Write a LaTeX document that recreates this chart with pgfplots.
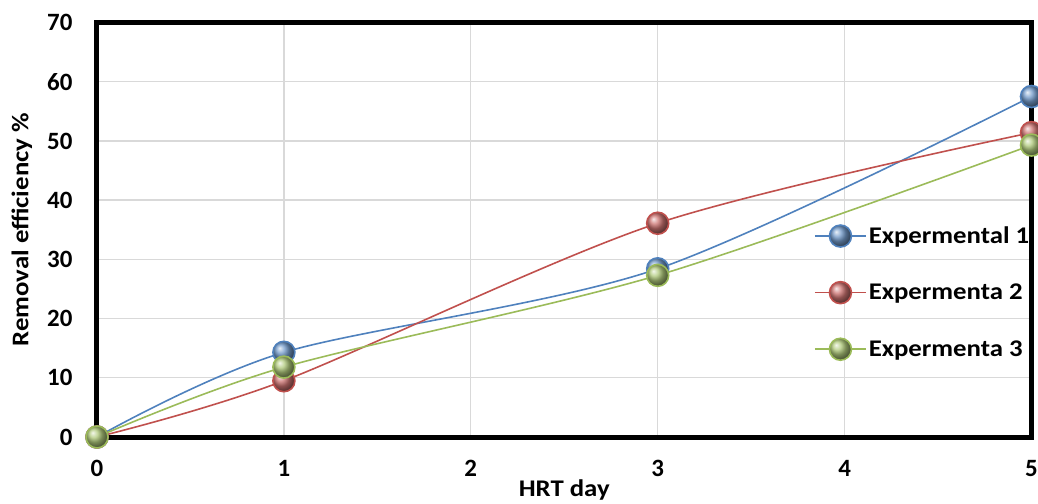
\documentclass[border=0pt]{standalone}
\usepackage{fontspec}
\setmainfont{Carlito}
\newfontfamily\widefont{Carlito}[FakeStretch=1.12]
\usepackage{pgfplots}
\pgfplotsset{compat=1.18}
\definecolor{cA}{HTML}{4F81BD}
\definecolor{cB}{HTML}{C0504D}
\definecolor{cC}{HTML}{9BBB59}
\begin{document}
\begin{tikzpicture}
\useasboundingbox (-97bp,-67bp) rectangle (941bp,437bp);
\begin{axis}[
  scale only axis,
  width=934.5bp, height=414.5bp,
  xmin=0, xmax=5, ymin=0, ymax=70,
  xtick={0,1,2,3,4,5}, ytick={0,10,...,70},
  grid=major,
  grid style={line width=1.3bp, color=black!15},
  axis line style={line width=5bp, line cap=rect},
  tick style={draw=none},
  /pgf/number format/assume math mode=true,
  ticklabel style={font=\fontsize{25}{29}\selectfont\bfseries},
  yticklabel style={xshift=-21bp},
  xticklabel style={yshift=-20bp},
  xlabel={HRT day},
  ylabel={Removal efficiency \%},
  label style={font=\widefont\fontsize{24}{28}\selectfont\bfseries},
  xlabel style={at={(axis description cs:0.5,0)}, anchor=center, yshift=-53bp},
  ylabel style={at={(axis description cs:-0.0803,0.5)}, anchor=center},
  clip=false,
  legend style={draw=none, fill=none, at={(axis cs:3.82,36.3)}, anchor=north west,
    font=\widefont\fontsize{24}{28}\selectfont\bfseries, row sep=33bp,
    nodes={inner sep=2bp}},
  legend cell align=left,
  legend image code/.code={
    \draw[mark repeat=2,mark phase=2,#1] plot coordinates {(0bp,0bp) (25.5bp,0bp) (51bp,0bp)};
  },
  every axis plot/.append style={line width=1.6bp, smooth, tension=0.5},
]
\addplot[color=cA, mark=ball, mark size=11bp, mark options={ball color=cA!80!white}] coordinates {(0,0) (1,14.3) (3,28.4) (5,57.5)};
\addlegendentry{Expermental 1}
\addplot[color=cB, mark=ball, mark size=11bp, mark options={ball color=cB!80!white}] coordinates {(0,0) (1,9.5) (3,36.1) (5,51.4)};
\addlegendentry{Expermenta 2}
\addplot[color=cC, mark=ball, mark size=11bp, mark options={ball color=cC!80!white}] coordinates {(0,0) (1,11.8) (3,27.3) (5,49.3)};
\addlegendentry{Expermenta 3}
\end{axis}
\end{tikzpicture}
\end{document}
